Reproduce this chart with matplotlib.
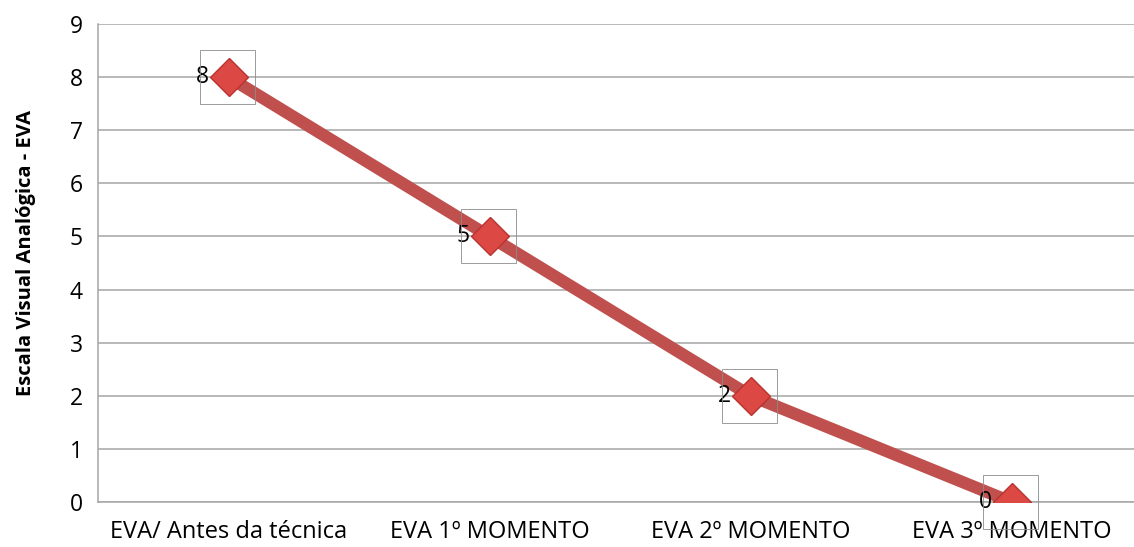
import matplotlib
matplotlib.use("Agg")
import matplotlib.pyplot as plt
from matplotlib.patches import Rectangle

categories = ["EVA/ Antes da técnica", "EVA 1º MOMENTO", "EVA 2º MOMENTO", "EVA 3º MOMENTO"]
values = [8, 5, 2, 0]
yticks = list(range(0, 10))

plt.rcParams['font.family'] = ['Open Sans', 'DejaVu Sans']

W, H = 1134, 547
fig = plt.figure(figsize=(W / 100, H / 100), dpi=100)
left, right, top, bottom = 98, 1134, 24, 502
ax = fig.add_axes([left / W, (H - bottom) / H, (right - left) / W, (bottom - top) / H])

step = 261.0
x = list(range(len(categories)))
ax.set_xlim(-0.5, -0.5 + (right - left) / step)
ax.set_ylim(0, 9)

ax.yaxis.grid(True, color="#a6a6a6", linewidth=1.1)
ax.set_axisbelow(True)
for s in ["top", "right"]:
    ax.spines[s].set_visible(False)
for s in ["left", "bottom"]:
    ax.spines[s].set_color("#a6a6a6")
    ax.spines[s].set_linewidth(1.1)

ax.plot(x, values, color="#c0504d", linewidth=8.8, solid_capstyle="butt", zorder=3)
ax.plot(x, values, linestyle="none", marker="D", markersize=19.5,
        markerfacecolor="#dc4844", markeredgecolor="#b8332f", markeredgewidth=1, zorder=4)

for xi, v in zip(x, values):
    ax.annotate(str(v), (xi, v), xytext=(-14, 0), textcoords="offset points",
                ha="right", va="center", fontsize=16.5, color="black", zorder=5)

# thin frames around the data labels, drawn in pixel space
fig.canvas.draw()
for xi, v in zip(x, values):
    px, py = ax.transData.transform((xi, v))
    rect = Rectangle((px - 29, py - 27), 55, 54, transform=None, fill=False,
                     edgecolor="#8c8c8c", linewidth=0.6, zorder=2, clip_on=False)
    fig.add_artist(rect)

ax.set_xticks(x)
ax.set_xticklabels(categories, fontsize=17)
ax.set_yticks(yticks)
ax.set_yticklabels([str(t) for t in yticks], fontsize=16.5)
ax.tick_params(axis="both", length=0)
ax.tick_params(axis="y", pad=11)
ax.tick_params(axis="x", pad=13)
ax.set_ylabel("Escala Visual Analógica - EVA", fontsize=14.5, fontweight="bold")
ax.yaxis.set_label_coords(-62 / (right - left), 0.52)

fig.savefig("out.png", dpi=100)
